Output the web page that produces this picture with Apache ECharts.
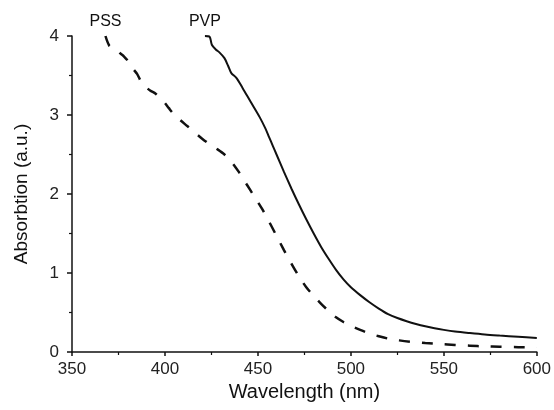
<!DOCTYPE html>
<html>
<head>
<meta charset="utf-8">
<script src="https://cdn.jsdelivr.net/npm/echarts@6/dist/echarts.min.js"></script>
<style>
  html, body { margin: 0; padding: 0; background: #fff; }
  #main { width: 554px; height: 410px; }
</style>
</head>
<body>
<div id="main"></div>
<script>
// wavelength (nm) and absorbance (a.u.)
var pssWave = [368, 370, 372, 374, 376, 378, 381, 383, 385, 387, 389.5, 392, 395, 398, 400, 402, 404,
    408, 412, 416, 420, 424, 428, 432, 436, 440, 444, 448, 452, 456, 460, 464, 468, 472, 476, 480,
    484, 488, 492, 496, 500, 505, 510, 515, 520, 526, 532, 540, 548, 556, 564, 572, 580, 590, 600];
var pssAbs = [4.0, 3.88, 3.85, 3.83, 3.78, 3.74, 3.66, 3.58, 3.52, 3.43, 3.36, 3.31, 3.27, 3.2, 3.15, 3.09, 3.03,
    2.94, 2.86, 2.78, 2.7, 2.63, 2.57, 2.5, 2.4, 2.27, 2.12, 1.97, 1.82, 1.65, 1.47, 1.29, 1.12, 0.96, 0.82, 0.71,
    0.61, 0.52, 0.44, 0.38, 0.33, 0.28, 0.235, 0.2, 0.17, 0.147, 0.13, 0.114, 0.1, 0.09, 0.08, 0.071, 0.066, 0.061, 0.057];

var pvpWave = [421.5, 424, 425.2, 427.3, 429.4, 432, 434, 435.7, 438.4, 441.8, 446, 451, 454, 456, 458, 460,
    464, 468, 472, 476, 480, 484, 488, 492, 496, 500, 505, 510, 515, 520, 525, 530, 535, 540, 545, 550,
    556, 564, 572, 580, 590, 600];
var pvpAbs = [4.0, 3.99, 3.89, 3.83, 3.79, 3.72, 3.62, 3.53, 3.47, 3.34, 3.17, 2.97, 2.83, 2.72, 2.61, 2.5,
    2.28, 2.07, 1.87, 1.68, 1.5, 1.33, 1.18, 1.04, 0.92, 0.82, 0.72, 0.63, 0.55, 0.48, 0.43, 0.39, 0.355, 0.325, 0.3, 0.28,
    0.26, 0.24, 0.222, 0.208, 0.192, 0.177];

var seriesNames = ['PSS', 'PVP'];

function pairs(xs, ys) {
    return xs.map(function (x, i) { return [x, ys[i]]; });
}

var chart = echarts.init(document.getElementById('main'));
var font = 'Liberation Sans, Arial, sans-serif';
var ink = '#111';

function curve(name, xs, ys, dashed) {
    return {
        name: name,
        type: 'line',
        data: pairs(xs, ys),
        showSymbol: false,
        smooth: 0.3,
        silent: true,
        lineStyle: { color: ink, width: dashed ? 2.5 : 2, type: dashed ? [11, 12] : 'solid' },
        markPoint: {
            symbol: 'circle',
            symbolSize: 0,
            data: [{ coord: [xs[0], ys[0]] }],
            label: {
                show: true, position: 'top', distance: 6,
                formatter: name, color: ink, fontSize: 16, fontFamily: font
            }
        }
    };
}

var option = {
    animation: false,
    backgroundColor: '#fff',
    grid: { left: 72, right: 16, top: 36, bottom: 58 },
    xAxis: {
        type: 'value',
        min: 350, max: 600, interval: 50,
        name: 'Wavelength (nm)',
        nameLocation: 'middle',
        nameGap: 30,
        nameTextStyle: { fontSize: 20, color: ink, fontFamily: font },
        axisLine: { lineStyle: { color: ink, width: 1.5 } },
        axisTick: { length: 4, lineStyle: { color: ink, width: 1.5 } },
        minorTick: { show: true, splitNumber: 2, length: 3, lineStyle: { color: ink, width: 1.2 } },
        axisLabel: { fontSize: 17, color: '#222', fontFamily: font, margin: 9 },
        splitLine: { show: false }
    },
    yAxis: {
        type: 'value',
        min: 0, max: 4, interval: 1,
        name: 'Absorbtion (a.u.)',
        nameLocation: 'middle',
        nameGap: 41,
        nameTextStyle: { fontSize: 19, color: ink, fontFamily: font },
        axisLine: { show: true, lineStyle: { color: ink, width: 1.5 } },
        axisTick: { show: true, length: 5, lineStyle: { color: ink, width: 1.5 } },
        minorTick: { show: true, splitNumber: 2, length: 3, lineStyle: { color: ink, width: 1.2 } },
        axisLabel: { fontSize: 17, color: '#222', fontFamily: font, margin: 13 },
        splitLine: { show: false }
    },
    series: [
        curve(seriesNames[0], pssWave, pssAbs, true),
        curve(seriesNames[1], pvpWave, pvpAbs, false)
    ]
};

chart.setOption(option);
</script>
</body>
</html>
